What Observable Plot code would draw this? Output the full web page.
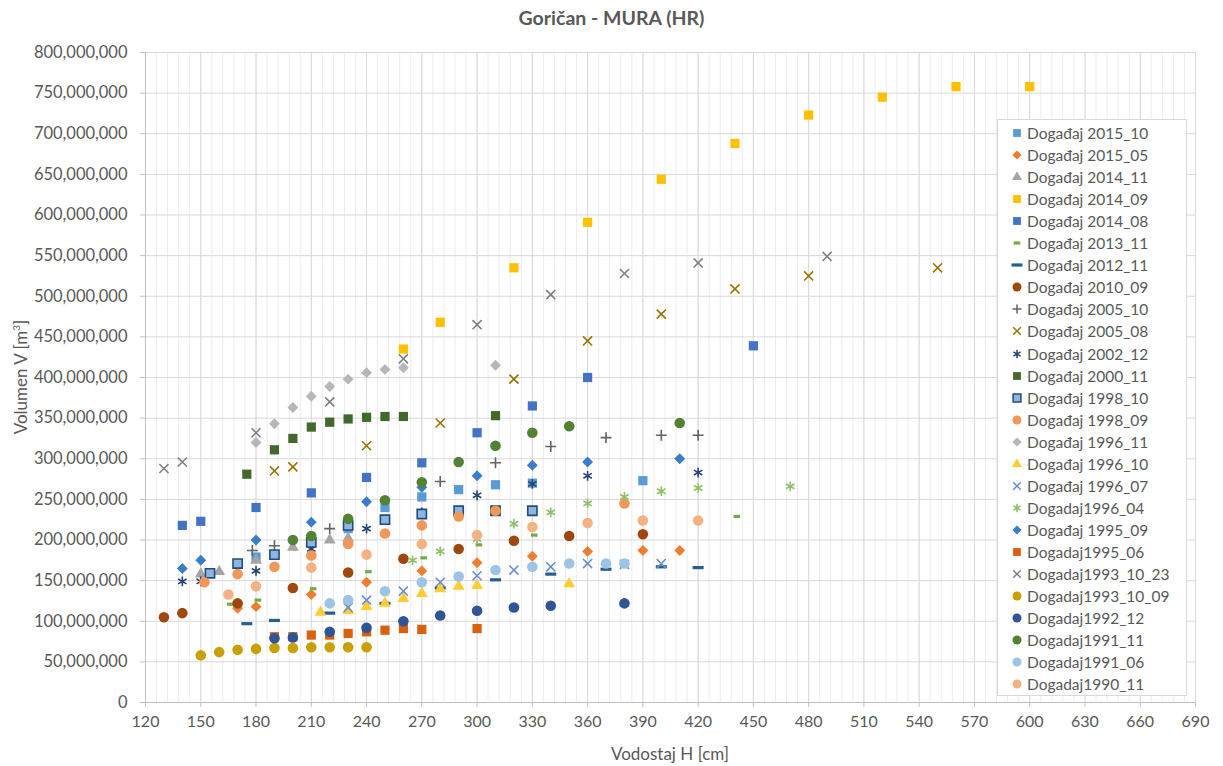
<!DOCTYPE html>
<html><head><meta charset="utf-8">
<script src="https://cdn.jsdelivr.net/npm/d3@7"></script>
<script src="https://cdn.jsdelivr.net/npm/@observablehq/plot@0.6"></script>
<style>
body{margin:0;background:#fff;font-family:Lato,"Open Sans",sans-serif;}
#wrap{position:relative;width:1223px;height:766px;overflow:hidden;}
#title{height:32px;line-height:35px;text-align:center;font-weight:bold;font-size:19.5px;color:#595959;}
#legend{position:absolute;left:997px;top:119px;width:190px;height:577px;background:#fff;border:1px solid #D9D9D9;box-sizing:border-box;}
.lrow{position:absolute;left:0;height:24px;line-height:24px;font-size:15.5px;color:#595959;white-space:nowrap;}
.lrow svg{position:absolute;left:12px;top:5px;}
.lrow span{position:absolute;left:29px;}
#xlab{position:absolute;left:145px;width:1050px;top:743px;text-align:center;font-size:17px;color:#595959;}
#ylab{position:absolute;left:20px;top:377px;transform:translate(-50%,-50%) rotate(-90deg);font-size:17px;color:#595959;white-space:nowrap;}
</style></head><body>
<div id="wrap">
<div id="title">Goričan - MURA (HR)</div>
<div id="chart"></div>
<div id="legend"></div>
<div id="xlab">Vodostaj H [cm]</div>
<div id="ylab">Volumen V [m<sup style="font-size:10px">3</sup>]</div>
</div>
<script>
// Tick values
const xTicks = [120,150,180,210,240,270,300,330,360,390,420,450,480,510,540,570,600,630,660,690];
const yTicks = [0,50e6,100e6,150e6,200e6,250e6,300e6,350e6,400e6,450e6,500e6,550e6,600e6,650e6,700e6,750e6,800e6];

// Series: [H (cm), V (millions m3)]
const s2015_10 = [[180,179],[210,202],[230,214],[250,240],[270,253],[290,262],[310,268],[330,270],[390,273]];
const s2015_05 = [[170,116],[180,118],[210,133],[240,148],[270,162],[300,172],[330,180],[360,186],[390,187],[410,187]];
const s2014_11 = [[150,158],[160,161],[180,175],[200,191],[220,200],[230,202]];
const s2014_09 = [[260,435],[280,468],[320,535],[360,591],[400,644],[440,688],[480,723],[520,745],[560,758],[600,758]];
const s2014_08 = [[140,218],[150,223],[180,240],[210,258],[240,277],[270,295],[300,332],[330,365],[360,400],[450,439]];
const s2013_11 = [[166,121],[181,126],[211,140],[241,161],[271,178],[301,194],[331,206],[441,229]];
const s2012_11 = [[175,97],[190,101],[220,110],[250,122],[280,141],[310,151],[340,158],[370,164],[400,167],[420,166]];
const s2010_09 = [[130,105],[140,110],[170,122],[200,141],[230,160],[260,177],[290,189],[320,199],[350,205],[390,207]];
const s2005_10 = [[178,187],[190,193],[220,214],[280,272],[310,295],[340,315],[370,326],[400,329],[420,329]];
const s2005_08 = [[190,285],[200,290],[240,316],[280,344],[320,398],[360,445],[400,478],[440,509],[480,525],[550,535]];
const s2002_12 = [[140,149],[150,149],[180,162],[210,189],[240,214],[270,234],[300,255],[330,269],[360,279],[420,283]];
const s2000_11 = [[175,281],[190,311],[200,325],[210,339],[220,345],[230,349],[240,351],[250,352],[260,352],[310,353]];
const s1998_10 = [[155,159],[170,171],[190,182],[210,197],[230,218],[250,225],[270,232],[290,236],[310,236],[330,236]];
const s1998_09 = [[152,148],[170,158],[190,167],[210,181],[230,195],[250,208],[270,218],[290,229],[310,236],[380,245]];
const s1996_11 = [[180,320],[190,343],[200,363],[210,377],[220,389],[230,398],[240,406],[250,410],[260,412],[310,415]];
const s1996_10 = [[215,111],[230,113],[240,118],[250,122],[260,128],[270,134],[280,140],[290,143],[300,144],[350,146]];
const s1996_07 = [[230,117],[240,126],[260,137],[280,148],[300,156],[320,163],[340,167],[360,171],[380,170],[400,171]];
const s1996_04 = [[265,175],[280,186],[300,201],[320,220],[340,234],[360,245],[380,253],[400,260],[420,264],[470,266]];
const s1995_09 = [[140,165],[150,175],[180,200],[210,222],[240,247],[270,265],[300,279],[330,292],[360,296],[410,300]];
const s1995_06 = [[190,81],[200,81],[210,83],[220,83],[230,85],[240,87],[250,89],[260,91],[270,90],[300,91]];
const s1993_10_23 = [[130,288],[140,296],[180,332],[220,370],[260,423],[300,465],[340,502],[380,528],[420,541],[490,549]];
const s1993_10_09 = [[150,58],[160,62],[170,65],[180,66],[190,67],[200,67],[210,68],[220,68],[230,68],[240,68]];
const s1992_12 = [[190,79],[200,80],[220,87],[240,92],[260,100],[280,107],[300,113],[320,117],[340,119],[380,122]];
const s1991_11 = [[200,200],[210,205],[230,226],[250,249],[270,271],[290,296],[310,316],[330,332],[350,340],[410,344]];
const s1991_06 = [[220,122],[230,126],[250,137],[270,148],[290,155],[310,163],[330,167],[350,171],[370,171],[380,171]];
const s1990_11 = [[165,133],[180,143],[210,166],[240,182],[270,195],[300,206],[330,216],[360,221],[390,224],[420,224]];

const seriesNames = ["Događaj 2015_10","Događaj 2015_05","Događaj 2014_11","Događaj 2014_09","Događaj 2014_08","Događaj 2013_11","Događaj 2012_11","Događaj 2010_09","Događaj 2005_10","Događaj 2005_08","Događaj 2002_12","Događaj 2000_11","Događaj 1998_10","Događaj 1998_09","Događaj 1996_11","Događaj 1996_10","Događaj 1996_07","Dogadaj1996_04","Događaj 1995_09","Dogadaj1995_06","Dogadaj1993_10_23","Dogadaj1993_10_09","Dogadaj1992_12","Dogadaj1991_11","Dogadaj1991_06","Dogadaj1990_11"];
const seriesData = [s2015_10,s2015_05,s2014_11,s2014_09,s2014_08,s2013_11,s2012_11,s2010_09,s2005_10,s2005_08,s2002_12,s2000_11,s1998_10,s1998_09,s1996_11,s1996_10,s1996_07,s1996_04,s1995_09,s1995_06,s1993_10_23,s1993_10_09,s1992_12,s1991_11,s1991_06,s1990_11];
const seriesColors = ["#5B9BD5","#ED7D31","#A5A5A5","#FFC000","#4472C4","#70AD47","#255E91","#9E480E","#636363","#997300","#264478","#43682B","#8FB4E3","#F1975A","#B7B7B7","#FFCD33","#698ED0","#8CC168","#3A7DC9","#D9600F","#7F7F7F","#C9A000","#2F5597","#548235","#9DC3E6","#F4B183"];
const seriesSymbols = ["square","diamond2","triangle","square","square","dashS","dashL","circle","plus","times","asterisk","square","square","circle","diamond2","triangle","times","asterisk","diamond2","square","times","circle","circle","circle","circle","circle"];

const dashS = {draw(c){c.moveTo(-3.3,-1.6);c.lineTo(3.3,-1.6);c.lineTo(3.3,1.6);c.lineTo(-3.3,1.6);c.closePath();}};
const dashL = {draw(c){c.moveTo(-5.5,-1.6);c.lineTo(5.5,-1.6);c.lineTo(5.5,1.6);c.lineTo(-5.5,1.6);c.closePath();}};
function symOf(name){ return name==="dashS"?dashS: name==="dashL"?dashL: name; }
const d3sym = {square:d3.symbolSquare,diamond2:d3.symbolDiamond2,triangle:d3.symbolTriangle,circle:d3.symbolCircle,plus:d3.symbolPlus,times:d3.symbolTimes,asterisk:d3.symbolAsterisk,dashS:dashS,dashL:dashL};
const strokeSyms = new Set(["plus","times","asterisk"]);
const radius = {square:5.2,diamond2:4.9,triangle:4.4,circle:5.3,plus:3.6,times:4.2,asterisk:4.6,dashS:5,dashL:5};

const marks = [
  Plot.ruleX(d3.range(120, 691, 6), {stroke:"#EDEDED", strokeWidth:1}),
  Plot.ruleX(xTicks, {stroke:"#D9D9D9", strokeWidth:1}),
  Plot.ruleY(yTicks, {stroke:"#D9D9D9", strokeWidth:1}),
  Plot.ruleX([120], {stroke:"#BFBFBF"}),
  Plot.ruleY([0], {stroke:"#BFBFBF"}),
  Plot.axisX(xTicks, {tickSize:5, tickPadding:8, stroke:"#BFBFBF", fill:"#595959", fontSize:16, label:null}),
  Plot.axisY(yTicks, {tickSize:5, tickPadding:13, stroke:"#BFBFBF", fill:"#595959", fontSize:16.5, tickFormat:d3.format(","), label:null})
];
seriesData.forEach((arr, i) => {
  const rows = arr.map(([h, v]) => ({H: h, V: v * 1e6}));
  const sname = seriesSymbols[i];
  const col = seriesColors[i];
  const opts = {x:"H", y:"V", symbol: symOf(sname), r: radius[sname]};
  if (strokeSyms.has(sname)) { opts.fill = "none"; opts.stroke = col; opts.strokeWidth = 1.6; }
  else if (seriesNames[i] === "Događaj 1998_10") { opts.fill = col; opts.stroke = "#1F4E79"; opts.strokeWidth = 1.6; }
  else { opts.fill = col; opts.stroke = "none"; }
  marks.push(Plot.dot(rows, opts));
});

const chart = Plot.plot({
  width:1223, height:734,
  marginLeft:145, marginRight:28, marginTop:20, marginBottom:64,
  style:{fontFamily:"Lato, 'Open Sans', sans-serif", fontSize:"16px", color:"#595959", background:"#fff"},
  x:{type:"linear", domain:[120,690]},
  y:{type:"linear", domain:[0,800e6]},
  marks
});
document.getElementById("chart").appendChild(chart);

// Legend
const leg = document.getElementById("legend");
seriesNames.forEach((nm, i) => {
  const row = document.createElement("div");
  row.className = "lrow";
  row.style.top = (i * 22.05 + 1) + "px";
  const sname = seriesSymbols[i];
  const col = seriesColors[i];
  const rr = radius[sname] * 0.85;
  const p = d3.symbol(d3sym[sname], Math.PI * rr * rr)();
  let style;
  if (strokeSyms.has(sname)) style = `fill="none" stroke="${col}" stroke-width="1.5"`;
  else if (nm === "Događaj 1998_10") style = `fill="${col}" stroke="#1F4E79" stroke-width="1.5"`;
  else style = `fill="${col}"`;
  row.innerHTML = `<svg width="14" height="14" viewBox="-7 -7 14 14"><path d="${p}" ${style}/></svg><span>${nm}</span>`;
  leg.appendChild(row);
});
</script>
</body></html>
